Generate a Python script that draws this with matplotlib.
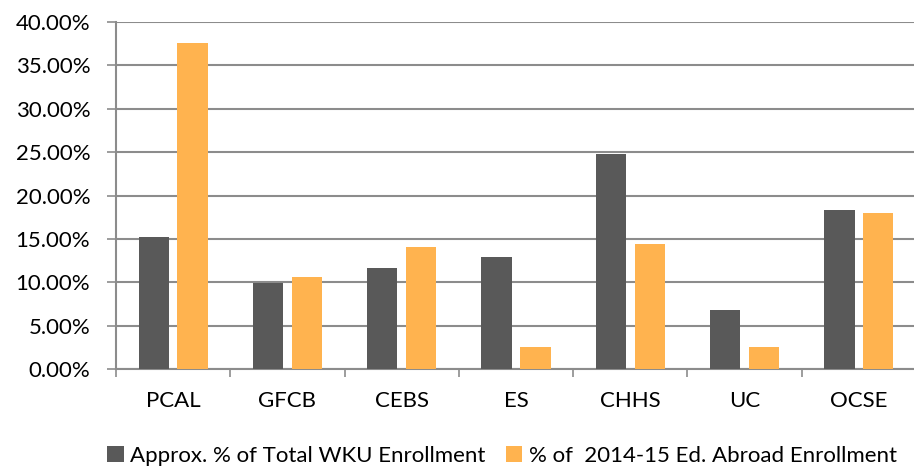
import matplotlib
matplotlib.use('Agg')
import matplotlib.pyplot as plt
import numpy as np
from matplotlib.ticker import FuncFormatter, MultipleLocator

categories = ['PCAL', 'GFCB', 'CEBS', 'ES', 'CHHS', 'UC', 'OCSE']
wku_enroll = [15.27, 9.92, 11.65, 12.88, 24.81, 6.84, 18.30]
abroad_enroll = [37.54, 10.65, 14.11, 2.57, 14.38, 2.57, 18.00]
series_names = ['Approx. % of Total WKU Enrollment', '% of  2014-15 Ed. Abroad Enrollment']

plt.rcParams['font.family'] = ['Lato', 'DejaVu Sans']

fig = plt.figure(figsize=(9.14, 4.69), dpi=100)
ax = fig.add_axes([116 / 914, 1 - 369 / 469, 800 / 914, 347 / 469])

x = np.arange(len(categories))
w = 0.265
ax.bar(x - 0.17, wku_enroll, w, color='#595959', label=series_names[0], zorder=3)
ax.bar(x + 0.17, abroad_enroll, w, color='#FFB34F', label=series_names[1], zorder=3)

ax.set_xlim(-0.5, len(categories) - 0.5)
ax.set_ylim(0, 40)
ax.yaxis.set_major_locator(MultipleLocator(5))
ax.yaxis.set_major_formatter(FuncFormatter(lambda v, p: '%.2f%%' % v))
ax.grid(axis='y', color='#8c8c8c', linewidth=1.5, zorder=0)

ax.set_xticks(x)
ax.set_xticklabels(categories)
ax.set_xticks(np.arange(len(categories) + 1) - 0.5, minor=True)
ax.tick_params(axis='x', which='major', length=0, pad=16, labelsize=16)
ax.tick_params(axis='x', which='minor', length=6, color='#8c8c8c', width=1.2)
ax.tick_params(axis='y', length=6.5, color='#8c8c8c', width=1.2, labelsize=16, pad=12)

for s in ['top', 'right']:
    ax.spines[s].set_visible(False)
for s in ['left', 'bottom']:
    ax.spines[s].set_color('#8c8c8c')
    ax.spines[s].set_linewidth(1.5)

ax.legend(loc='lower center', bbox_to_anchor=(0.5 - 14 / 800, -0.305), ncol=2, frameon=False,
          fontsize=16, handlelength=0.75, handleheight=0.75, handletextpad=0.3,
          columnspacing=0.9, borderaxespad=0)

fig.savefig('out.png', dpi=100)
